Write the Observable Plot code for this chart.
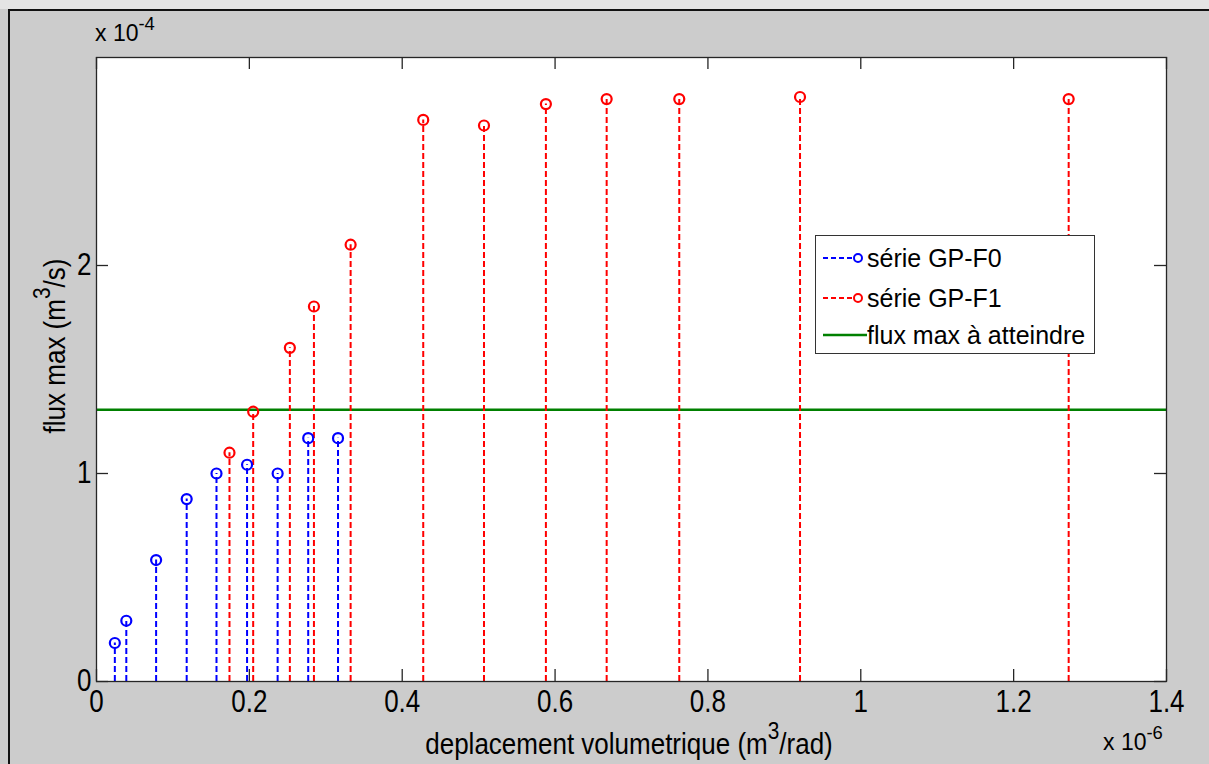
<!DOCTYPE html>
<html>
<head>
<meta charset="utf-8">
<script src="https://cdn.jsdelivr.net/npm/d3@7"></script>
<script src="https://cdn.jsdelivr.net/npm/@observablehq/plot@0.6"></script>
<style>
  html, body { margin: 0; padding: 0; background: #cccccc; }
  #wrap { position: relative; width: 1209px; height: 764px; overflow: hidden; font-family: "Liberation Sans", Arial, sans-serif; color: #000; }
  #topstrip { position: absolute; left: 0; top: 0; width: 1209px; height: 9px; background: #e4e4e4; }
  #border { position: absolute; left: 8px; top: 9px; width: 1400px; height: 900px; border-left: 2px solid #111; border-top: 2px solid #111; }
  #chart { position: absolute; left: 0; top: 0; }
  .ov { position: absolute; white-space: nowrap; line-height: 1; }
  .ov sup { font-size: 0.8em; position: relative; top: -0.15em; vertical-align: super; line-height: 0; }
  #legend { position: absolute; left: 815px; top: 235px; width: 280px; height: 119px; box-sizing: border-box; background: #fff; border: 1px solid #333; }
  .lrow { position: absolute; left: 0; height: 30px; width: 100%; }
  .lrow svg { position: absolute; left: 6px; top: 0; }
  .lrow span { position: absolute; left: 51px; top: 1px; font-size: 25px; white-space: nowrap; transform: scale(1, 1.05); transform-origin: left center; }
</style>
</head>
<body>
<div id="wrap">
  <div id="topstrip"></div>
  <div id="border"></div>
  <div id="chart"></div>
  <div class="ov" id="yexp" style="left:95px; top:22px; font-size:23px;">x 10<sup>-4</sup></div>
  <div class="ov" id="xexp" style="left:1103px; top:731px; font-size:23px;">x 10<sup>-6</sup></div>
  <div class="ov" id="xlabel" style="left:629px; top:744px; font-size:26px; transform: translate(-50%,-50%) scale(1,1.15);">deplacement volumetrique (m<sup>3</sup>/rad)</div>
  <div class="ov" id="ylabel" style="left:55px; top:346px; font-size:26px; transform: translate(-50%,-50%) rotate(-90deg) scale(1,1.15);">flux max (m<sup>3</sup>/s)</div>
  <div id="legend"></div>
</div>
<script>
// ---- data (x in units of 1e-6 m^3/rad, y in units of 1e-4 m^3/s) ----
const xTicks = [0, 0.2, 0.4, 0.6, 0.8, 1.0, 1.2, 1.4];
const yTicks = [0, 1, 2];
const f0X = [0.024, 0.039, 0.078, 0.118, 0.157, 0.197, 0.237, 0.277, 0.316];
const f0Y = [0.185, 0.292, 0.584, 0.877, 1.0, 1.042, 1.0, 1.17, 1.17];
const f1X = [0.174, 0.205, 0.253, 0.2845, 0.3325, 0.4275, 0.507, 0.588, 0.6675, 0.7625, 0.9205, 1.272];
const f1Y = [1.10, 1.297, 1.604, 1.803, 2.10, 2.70, 2.673, 2.776, 2.80, 2.80, 2.81, 2.80];
const fluxTarget = 1.306;
const seriesNames = ["série GP-F0", "série GP-F1", "flux max à atteindre"];
const seriesColors = ["#0000ff", "#ff0000", "#008000"];

const f0 = f0X.map((x, i) => ({x, y: f0Y[i]}));
const f1 = f1X.map((x, i) => ({x, y: f1Y[i]}));

const W = 1209, H = 764;
const mL = 96, mR = 43, mT = 57, mB = 83;
const frameW = W - mL - mR, frameH = H - mT - mB;
const tickLen = 12;
const fmt = d => String(+d.toFixed(1));

const chart = Plot.plot({
  width: W, height: H,
  marginLeft: mL, marginRight: mR, marginTop: mT, marginBottom: mB,
  style: { background: "transparent", fontFamily: "Liberation Sans, Arial, sans-serif", fontSize: "26px", color: "#000", overflow: "visible" },
  x: { domain: [0, 1.4] },
  y: { domain: [0, 3] },
  marks: [
    Plot.frame({ fill: "white", stroke: null }),
    Plot.ruleY([fluxTarget], { stroke: seriesColors[2], strokeWidth: 2.5 }),
    Plot.ruleX(f0, { x: "x", y1: 0, y2: "y", stroke: seriesColors[0], strokeWidth: 2, strokeDasharray: "6,3" }),
    Plot.ruleX(f1, { x: "x", y1: 0, y2: "y", stroke: seriesColors[1], strokeWidth: 2, strokeDasharray: "6,3" }),
    Plot.dot(f0, { x: "x", y: "y", r: 5, stroke: seriesColors[0], fill: "none", strokeWidth: 2.2 }),
    Plot.dot(f1, { x: "x", y: "y", r: 5, stroke: seriesColors[1], fill: "none", strokeWidth: 2.2 }),
    Plot.frame({ stroke: "#262626", strokeWidth: 1.3 }),
    Plot.tickX(xTicks, { insetTop: frameH - tickLen, stroke: "#262626", strokeWidth: 1.3 }),
    Plot.tickX(xTicks, { insetBottom: frameH - tickLen, stroke: "#262626", strokeWidth: 1.3 }),
    Plot.tickY(yTicks, { insetRight: frameW - tickLen, stroke: "#262626", strokeWidth: 1.3 }),
    Plot.tickY(yTicks, { insetLeft: frameW - tickLen, stroke: "#262626", strokeWidth: 1.3 }),
    Plot.axisX({ ticks: xTicks, tickSize: 0, tickPadding: 10, tickFormat: fmt, label: null, fontSize: 26 }),
    Plot.axisY({ ticks: yTicks, tickSize: 0, tickPadding: 5, tickFormat: fmt, label: null, fontSize: 26 })
  ]
});
document.getElementById("chart").appendChild(chart);

// stretch tick labels vertically (MATLAB-like tall glyphs): wrap each label in a <g> scaled about its centre
const svgNS = "http://www.w3.org/2000/svg";
chart.querySelectorAll('g[aria-label$="tick label"] text').forEach(t => {
  const g = document.createElementNS(svgNS, "g");
  t.parentNode.insertBefore(g, t);
  g.appendChild(t);
  const b = g.getBBox();
  const cx = b.x + b.width / 2, cy = b.y + b.height / 2;
  if (isFinite(cx) && isFinite(cy)) {
    g.setAttribute("transform", `translate(${cx},${cy}) scale(1,1.18) translate(${-cx},${-cy})`);
  }
});

// legend
const legend = document.getElementById("legend");
const rowTops = [7, 47, 84];
seriesNames.forEach((name, i) => {
  const row = document.createElement("div");
  row.className = "lrow";
  row.style.top = rowTops[i] + "px";
  const c = seriesColors[i];
  let icon;
  if (i < 2) {
    icon = `<svg width="45" height="30"><line x1="1" y1="15" x2="31" y2="15" stroke="${c}" stroke-width="2" stroke-dasharray="5,3"/><circle cx="36" cy="15" r="4" fill="none" stroke="${c}" stroke-width="2"/></svg>`;
  } else {
    icon = `<svg width="45" height="30"><line x1="1" y1="15" x2="46" y2="15" stroke="${c}" stroke-width="2.5"/></svg>`;
  }
  row.innerHTML = icon + `<span>${name}</span>`;
  legend.appendChild(row);
});
</script>
</body>
</html>
